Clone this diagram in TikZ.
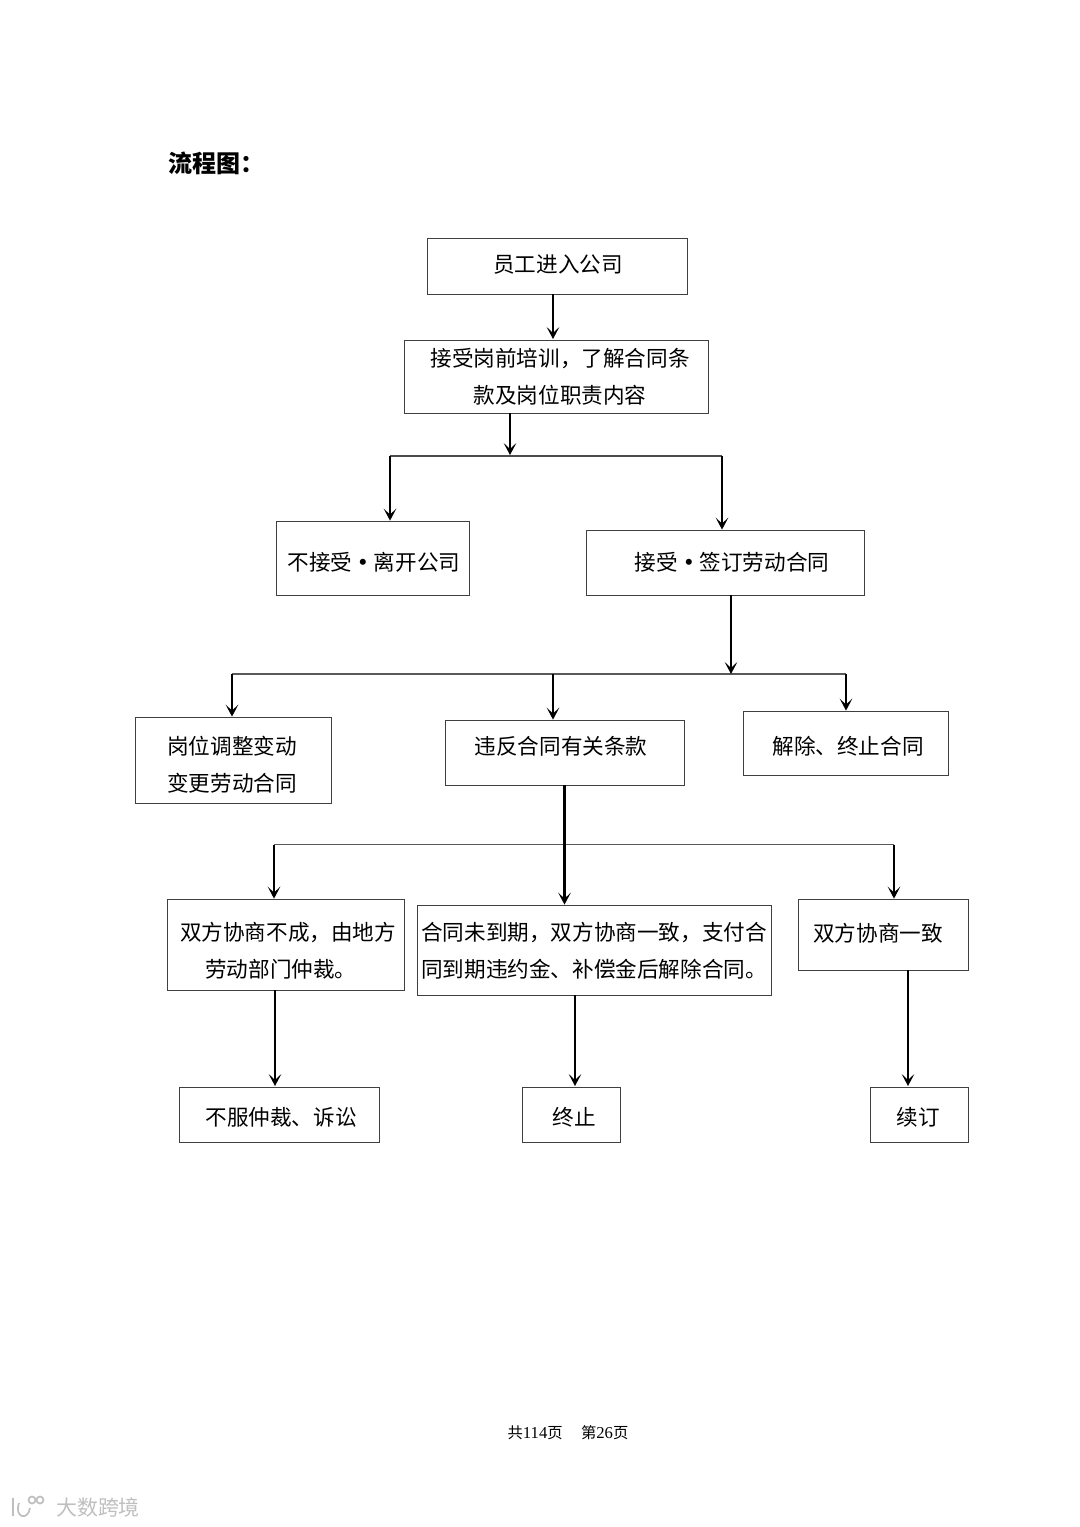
\documentclass[tikz,border=0pt]{standalone}
\usepackage{fontspec}
\setmainfont{Noto Sans CJK SC}
\newfontfamily\numfont{Liberation Serif}
\usetikzlibrary{arrows.meta,positioning,calc}
\newcommand{\nudge}[3]{\raisebox{#2pt}[\height][\depth]{\kern#1pt\relax #3\kern-#1pt\relax}}
\newcommand{\middot}{\makebox[16.2pt]{\textbf{·}}}

\begin{document}
\begin{tikzpicture}[x=0.75pt, y=-0.75pt, font=\fontsize{16.2}{27.75}\selectfont, box/.style={draw, inner sep=0pt, align=center, line width=0.6pt, draw=black!75}, arr/.style={-{Stealth[length=9pt,width=9.5pt,inset=4.5pt]}, line width=2pt}, bar/.style={line width=0.8pt, draw=black!65}, wmark/.style={text=black!25, font=\fontsize{15.7}{18}\selectfont}]
\useasboundingbox (0,0) rectangle (1080,1527);
\node[font=\fontsize{18}{20}\selectfont\bfseries] (title) at (216,163) {流程图：};
\node[box, minimum width=195pt, minimum height=42pt] (enter) at (557,266) {\nudge{.75}{.75}{员工进入公司}};
\node[box, minimum width=228pt, minimum height=54.75pt] (train) at (556,376.5) {\nudge{3}{0}{接受岗前培训，了解合同条}\\\nudge{3}{0}{款及岗位职责内容}};
\node[box, minimum width=144.75pt, minimum height=55.5pt] (leave) at (372.5,558) {\nudge{1.1}{-3}{不接受\middot 离开公司}};
\node[box, minimum width=208.5pt, minimum height=48.75pt] (sign) at (725,562.5) {\nudge{5.25}{0}{接受\middot 签订劳动合同}};
\node[box, minimum width=147pt, minimum height=64.5pt] (change) at (233,760) {\nudge{-.75}{-3.4}{岗位调整变动}\\\nudge{-.75}{-3.4}{变更劳动合同}};
\node[box, minimum width=179.25pt, minimum height=48.75pt] (breach) at (564.5,752.5) {\nudge{-2.6}{4.9}{违反合同有关条款}};
\node[box, minimum width=153.75pt, minimum height=48pt] (cancel) at (845.5,743) {\nudge{1.9}{-2.25}{解除、终止合同}};
\node[box, minimum width=177.75pt, minimum height=68.25pt] (fail) at (285.5,944.5) {\nudge{1.9}{-4.9}{双方协商不成，由地方}\\\nudge{-3.4}{-4.9}{劳动部门仲裁。}};
\node[box, minimum width=265.5pt, minimum height=67.5pt] (early) at (594,950) {\nudge{0}{-.75}{合同未到期，双方协商一致，支付合}\\\nudge{0}{-.75}{同到期违约金、补偿金后解除合同。}};
\node[box, minimum width=127.5pt, minimum height=53.25pt] (agree) at (883,934.5) {\nudge{-3.75}{1.1}{双方协商一致}};
\node[box, minimum width=150pt, minimum height=41.25pt] (appeal) at (279,1114.5) {\nudge{1.5}{-1.9}{不服仲裁、诉讼}};
\node[box, minimum width=73.5pt, minimum height=41.25pt] (stop) at (571,1114.5) {\nudge{2.25}{-1.9}{终止}};
\node[box, minimum width=73.5pt, minimum height=41.25pt] (renew) at (919,1114.5) {\nudge{-.75}{-1.9}{续订}};
\node[font=\fontsize{11.5}{12}\selectfont] (foot) at (568,1433) {共{\fontsize{12.5}{12}\numfont 114}页\hspace{1.2em}第{\fontsize{12.5}{12}\numfont 26}页};
\node[wmark] (wm) at (98,1508) {大数跨境};
% junctions on the three bars
\coordinate (a1) at (553,339);
\coordinate (a2) at (510,455);
\coordinate (a3) at (390,456);
\coordinate (a4) at (722,456);
\coordinate (b1) at (731,674);
\coordinate (b2) at (232,674);
\coordinate (b3) at (553,674);
\coordinate (b4) at (846,674);
\coordinate (c1) at (274,844.5);
\coordinate (c2) at (564.5,844.5);
\coordinate (c3) at (894,844.5);
\coordinate (d1) at (275,1086);
\coordinate (d2) at (575,1086);
\coordinate (d3) at (908,1086);
\draw[bar, line width=1.1pt, draw=black!70] (a3) -- (a4);
\draw[bar] (b2) -- (b4);
\draw[bar] (c1) -- (c3);
\draw[arr] (enter.south -| a1) -- (a1);
\draw[arr, line width=1.5pt] (train.south -| a2) -- (a2);
\draw[arr] (a3) -- (a3 |- leave.north);
\draw[arr] (a4) -- (a4 |- sign.north);
\draw[arr] (sign.south -| b1) -- (b1);
\draw[arr] (b2) -- (b2 |- change.north);
\draw[arr] (b3) -- (b3 |- breach.north);
\draw[arr] (b4) -- (b4 |- cancel.north);
\draw[arr] (breach.south -| c2) -- (c2 |- early.north);
\draw[arr] (c1) -- (c1 |- fail.north);
\draw[arr] (c3) -- (c3 |- agree.north);
\draw[arr] (fail.south -| d1) -- (d1);
\draw[arr] (early.south -| d2) -- (d2);
\draw[arr] (agree.south -| d3) -- (d3);
% watermark logo
\draw[black!25, line width=1.3pt] (13,1498) -- (13,1516) (19,1503) .. controls (14,1518) and (28,1521) .. (30,1508) (32,1500) circle[radius=3.5] (40,1500) circle[radius=3.5];
\end{tikzpicture}
\end{document}
